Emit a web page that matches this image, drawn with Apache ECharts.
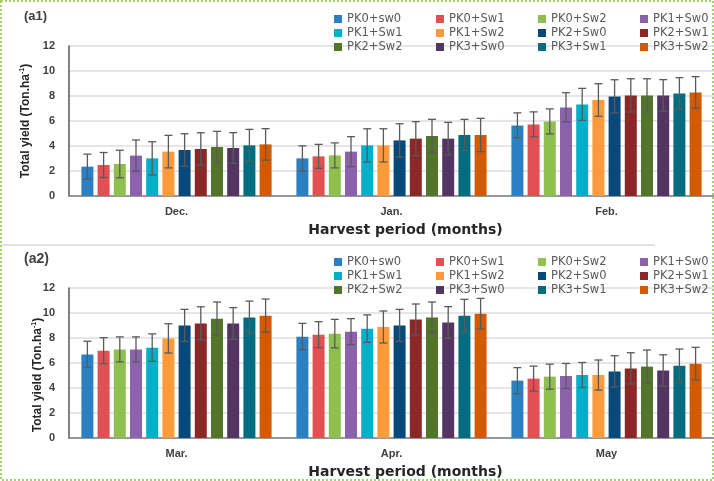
<!DOCTYPE html>
<html>
<head>
<meta charset="utf-8">
<script src="https://cdn.jsdelivr.net/npm/echarts@6/dist/echarts.min.js"></script>
<style>
html,body{margin:0;padding:0;background:#fff;}
#chart{width:714px;height:481px;}
</style>
</head>
<body>
<div id="chart"></div>
<script>
const categories1 = ['Dec.', 'Jan.', 'Feb.'];
const categories2 = ['Mar.', 'Apr.', 'May'];
const yTicks = [0, 2, 4, 6, 8, 10, 12];
const seriesNames = ['PK0+sw0','PK0+Sw1','PK0+Sw2','PK1+Sw0','PK1+Sw1','PK1+Sw2','PK2+Sw0','PK2+Sw1','PK2+Sw2','PK3+Sw0','PK3+Sw1','PK3+Sw2'];
const colors = ['#2a80c2','#e15052','#8fbf4f','#8c62ac','#00afca','#fd9a3b','#07497a','#8c2728','#52752a','#533463','#036d7f','#d35a03'];

// values per month, one entry per treatment
const dec = [2.35,2.48,2.56,3.23,3.01,3.55,3.68,3.76,3.92,3.84,4.05,4.13];
const decErr = [1.0,1.0,1.1,1.25,1.33,1.3,1.3,1.3,1.25,1.23,1.28,1.26];
const jan = [3.01,3.17,3.25,3.55,4.05,4.05,4.45,4.59,4.80,4.59,4.88,4.88];
const janErr = [1.0,0.96,1.0,1.2,1.33,1.33,1.33,1.36,1.33,1.3,1.25,1.33];
const feb = [5.65,5.73,5.97,7.09,7.33,7.68,7.97,8.05,8.05,8.05,8.21,8.29];
const febErr = [1.0,1.0,1.0,1.17,1.28,1.3,1.33,1.33,1.33,1.26,1.26,1.26];
const mar = [6.69,6.99,7.09,7.09,7.23,7.97,9.01,9.17,9.55,9.17,9.65,9.79];
const marErr = [1.05,1.04,1.0,1.0,1.1,1.17,1.28,1.33,1.33,1.26,1.3,1.33];
const apr = [8.11,8.27,8.35,8.51,8.75,8.88,9.01,9.49,9.65,9.25,9.79,9.95];
const aprErr = [1.06,1.04,1.14,1.04,1.1,1.28,1.28,1.23,1.23,1.26,1.3,1.22];
const may = [4.59,4.75,4.91,4.96,5.04,5.04,5.33,5.57,5.71,5.41,5.79,5.95];
const mayErr = [1.04,1.0,1.0,1.0,1.0,1.2,1.25,1.25,1.33,1.25,1.33,1.3];

const panel1 = [dec, jan, feb];
const panel1Err = [decErr, janErr, febErr];
const panel2 = [mar, apr, may];
const panel2Err = [marErr, aprErr, mayErr];

const BAR_W = 12;
const BAR_GAP = 0.35;
const STEP = BAR_W * (1 + BAR_GAP);
const nSeries = seriesNames.length;

const chart = echarts.init(document.getElementById('chart'), null, {renderer: 'canvas'});

const tickFont = {color: '#404040', fontSize: 11, fontWeight: 'bold', fontFamily: 'Liberation Sans'};

function makeGrid(top) {
  return {left: 69, top: top, width: 655, height: 150, containLabel: false};
}
function makeX(idx, cats) {
  return {
    type: 'category', gridIndex: idx, data: cats,
    axisLine: {show: true, lineStyle: {color: '#7f7f7f', width: 1.5}},
    axisTick: {show: false},
    axisLabel: Object.assign({margin: 10}, tickFont),
    name: 'Harvest period (months)',
    nameLocation: 'middle', nameGap: 27, nameMoveOverlap: false,
    nameTextStyle: {fontFamily: 'DejaVu Sans', fontWeight: 'bold', fontSize: 14, color: '#262626', padding: [0, 0, 0, 28]}
  };
}
function makeY(idx, gap, shift) {
  return {
    type: 'value', gridIndex: idx, min: 0, max: 12, interval: 2,
    axisLine: {show: true, lineStyle: {color: '#595959', width: 1.5}},
    axisTick: {show: false},
    axisLabel: Object.assign({margin: 14, formatter: function (v) { return yTicks.indexOf(v) >= 0 ? String(v) : ''; }}, tickFont),
    splitLine: {lineStyle: {color: '#dedede', width: 1.5}},
    name: 'Total yield (Ton.ha{sup|-1})',
    nameLocation: 'middle', nameRotate: 90, nameGap: gap, nameMoveOverlap: false,
    nameTextStyle: {fontFamily: 'Liberation Sans', fontWeight: 'bold', fontSize: 12, color: '#262626',
      padding: [0, shift, 0, 0],
      rich: {sup: {fontSize: 7, fontWeight: 'bold', fontFamily: 'Liberation Sans', color: '#262626', padding: [0, 0, 6, 0]}}}
  };
}

const series = [];
[[panel1, panel1Err], [panel2, panel2Err]].forEach(function (p, g) {
  const vals = p[0], errs = p[1];
  for (let s = 0; s < nSeries; s++) {
    series.push({
      type: 'bar', name: seriesNames[s], xAxisIndex: g, yAxisIndex: g,
      barWidth: BAR_W, barGap: (BAR_GAP * 100) + '%',
      itemStyle: {color: colors[s]},
      data: vals.map(function (m) { return m[s]; }),
      silent: true
    });
  }
  const errData = [];
  for (let c = 0; c < vals.length; c++) {
    for (let s = 0; s < nSeries; s++) {
      errData.push([c, s, vals[c][s], errs[c][s]]);
    }
  }
  series.push({
    type: 'custom', name: 'err' + g, xAxisIndex: g, yAxisIndex: g, z: 10, silent: true,
    encode: {x: 0, y: 2},
    data: errData,
    renderItem: function (params, api) {
      const c = api.value(0), s = api.value(1), v = api.value(2), e = api.value(3);
      const hi = api.coord([c, v + e]);
      const lo = api.coord([c, v - e]);
      const x = hi[0] + (s - (nSeries - 1) / 2) * STEP;
      const cap = 4;
      const st = {stroke: '#5a5a5a', lineWidth: 1.3};
      return {type: 'group', children: [
        {type: 'line', shape: {x1: x, y1: hi[1], x2: x, y2: lo[1]}, style: st},
        {type: 'line', shape: {x1: x - cap, y1: hi[1], x2: x + cap, y2: hi[1]}, style: st},
        {type: 'line', shape: {x1: x - cap, y1: lo[1], x2: x + cap, y2: lo[1]}, style: st}
      ]};
    }
  });
});

function makeLegends(top) {
  const lefts = [329, 431, 533, 635];
  return lefts.map(function (l, col) {
    return {
      orient: 'vertical', left: l, top: top,
      itemWidth: 8, itemHeight: 8, itemGap: 2,
      icon: 'rect', selectedMode: false,
      data: [seriesNames[col], seriesNames[col + 4], seriesNames[col + 8]],
      textStyle: {fontFamily: 'DejaVu Sans', fontSize: 11.5, color: '#595959', lineHeight: 11}
    };
  });
}

const option = {
  animation: false,
  backgroundColor: '#ffffff',
  grid: [makeGrid(46), makeGrid(288)],
  xAxis: [makeX(0, categories1), makeX(1, categories2)],
  yAxis: [makeY(0, 37, 0), makeY(1, 25, 24)],
  legend: makeLegends(8).concat(makeLegends(251)),
  series: series,
  graphic: [
    {type: 'rect', shape: {x: 1, y: 1, width: 712, height: 479}, style: {fill: 'none', stroke: '#a3cf72', lineWidth: 2, lineDash: [2, 2]}, silent: true},
    {type: 'line', shape: {x1: 2, y1: 245, x2: 655, y2: 245}, style: {stroke: '#d9d9d9', lineWidth: 1.5}, silent: true},
    {type: 'text', left: 24, top: 10, style: {text: '(a1)', font: 'bold 13px "Liberation Sans"', fill: '#404040'}},
    {type: 'text', left: 24, top: 252, style: {text: '(a2)', font: 'bold 14px "Liberation Sans"', fill: '#404040'}}
  ]
};
chart.setOption(option);
</script>
</body>
</html>
